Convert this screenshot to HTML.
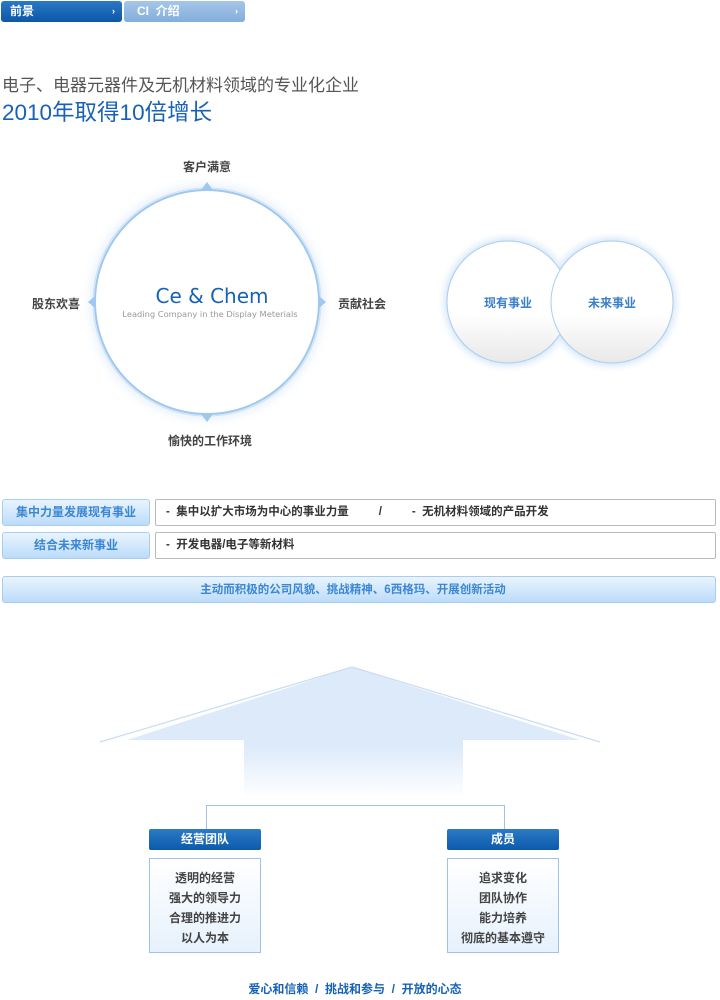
<!DOCTYPE html>
<html><head><meta charset="utf-8"><style>
*{margin:0;padding:0;box-sizing:border-box}
body{width:720px;height:1000px;background:#fff;position:relative;overflow:hidden;font-family:"Liberation Sans","Noto Sans CJK SC",sans-serif;}
.a{position:absolute}
.tab{position:absolute;top:1px;height:21px;border-radius:3px;color:#fff;font-size:12px;font-weight:bold;line-height:21px;padding-left:9px}
.t{font-size:12px;color:#444;font-weight:bold;white-space:nowrap}
.lbtn{position:absolute;left:2px;width:148px;height:27px;border:1px solid #a9cdee;border-radius:3px;background:linear-gradient(#e9f4fe,#bcdcfa);color:#3c86d2;font-size:12px;font-weight:bold;text-align:center;line-height:25px}
.rbox{position:absolute;left:155px;width:561px;height:27px;border:1px solid #bbb;border-radius:2px;font-size:11.5px;color:#333;font-weight:bold;line-height:25px;padding-left:10px;white-space:nowrap}
.hd{position:absolute;top:829px;width:112px;height:21px;background:linear-gradient(#2a7ac4,#0d5aab);border-radius:2px;color:#fff;font-size:12px;font-weight:bold;text-align:center;line-height:21px}
.lst{position:absolute;top:858px;width:112px;height:95px;border:1px solid #9fc3e6;background:linear-gradient(#fff,#e6f1fc);font-size:12px;font-weight:bold;color:#444;text-align:center;line-height:20px;padding-top:9px}
</style></head><body>
<div class="tab" style="left:1px;width:121px;background:linear-gradient(#2a78c6,#0c57a8)">前景<span class="a" style="right:7px;font-size:9px">›</span></div>
<div class="tab" style="left:124px;width:121px;background:linear-gradient(#a5c6e8,#82aedc);padding-left:13px">CI&nbsp; 介绍<span class="a" style="right:7px;font-size:9px">›</span></div>
<div class="a" style="left:2px;top:71px;font-size:17px;color:#555;white-space:nowrap">电子、电器元器件及无机材料领域的专业化企业</div>
<div class="a" style="left:2px;top:95px;font-size:22.5px;color:#1762b6;white-space:nowrap">2010年取得10倍增长</div>

<svg class="a" style="left:0;top:140px" width="720" height="320">
<defs><radialGradient id="g" cx="50%" cy="50%" r="50%"><stop offset="85%" stop-color="#d5e6f8" stop-opacity="0.9"/><stop offset="100%" stop-color="#fff" stop-opacity="0"/></radialGradient>
<linearGradient id="sg" x1="0" y1="0" x2="0" y2="1"><stop offset="0.6" stop-color="#fff"/><stop offset="1" stop-color="#e8e8e8"/></linearGradient></defs>
<circle cx="207" cy="162" r="128" fill="url(#g)"/>
<circle cx="207" cy="162" r="114" fill="none" stroke="#cfe1f5" stroke-width="1"/>
<circle cx="207" cy="162" r="112" fill="#fff" stroke="#9ec8f0" stroke-width="2"/>
<polygon points="207,42 201,50 213,50" fill="#9ec8f0"/>
<polygon points="207,282 201,274 213,274" fill="#9ec8f0"/>
<polygon points="88,162 95,156 95,168" fill="#9ec8f0"/>
<polygon points="326,162 319,156 319,168" fill="#9ec8f0"/>
<circle cx="508" cy="162" r="72" fill="url(#g)"/>
<circle cx="612" cy="162" r="72" fill="url(#g)"/>
<circle cx="508" cy="162" r="61" fill="url(#sg)" stroke="#a9cdf0"/>
<circle cx="612" cy="162" r="61" fill="url(#sg)" stroke="#a9cdf0"/>
<text x="508" y="167" text-anchor="middle" font-size="12" font-weight="bold" fill="#3a7fcb" font-family="Liberation Sans,Noto Sans CJK SC,sans-serif">现有事业</text>
<text x="612" y="167" text-anchor="middle" font-size="12" font-weight="bold" fill="#3a7fcb" font-family="Liberation Sans,Noto Sans CJK SC,sans-serif">未来事业</text>
<text x="212" y="163" text-anchor="middle" font-size="20" fill="#1762b6" font-family="DejaVu Sans,sans-serif">Ce &amp; Chem</text>
<text x="210" y="177" text-anchor="middle" font-size="8.3" fill="#999" font-family="DejaVu Sans,sans-serif">Leading Company in the Display Meterials</text>
</svg>
<div class="a t" style="left:183px;top:158px">客户满意</div>
<div class="a t" style="left:32px;top:295px">股东欢喜</div>
<div class="a t" style="left:338px;top:295px">贡献社会</div>
<div class="a t" style="left:168px;top:432px">愉快的工作环境</div>

<div class="lbtn" style="top:499px">集中力量发展现有事业</div>
<div class="rbox" style="top:499px">-&nbsp; 集中以扩大市场为中心的事业力量<span style="margin-left:30px">/</span><span style="margin-left:30px">-&nbsp; 无机材料领域的产品开发</span></div>
<div class="lbtn" style="top:532px">结合未来新事业</div>
<div class="rbox" style="top:532px">-&nbsp; 开发电器/电子等新材料</div>
<div class="a" style="left:2px;top:576px;width:714px;height:27px;border:1px solid #a9cdee;border-radius:3px;background:linear-gradient(#e9f4fe,#bcdcfa);color:#3c86d2;font-size:11.5px;font-weight:bold;text-align:center;line-height:26px;padding-right:12px">主动而积极的公司风貌、挑战精神、6西格玛、开展创新活动</div>

<svg class="a" style="left:100px;top:660px" width="520" height="160">
<defs><linearGradient id="ag" x1="0" y1="0" x2="0" y2="1"><stop offset="0.55" stop-color="#dceafa"/><stop offset="0.92" stop-color="#fff"/></linearGradient></defs>
<polygon points="252,7 480,80 363,80 363,150 144,150 144,80 27,80" fill="url(#ag)"/>
<polyline points="0,82 252,7 500,82" fill="none" stroke="#c8dcf2" stroke-width="1.2"/>
</svg>
<div class="a" style="left:206px;top:805px;width:299px;height:25px;border:1px solid #9fc3e6;border-bottom:none"></div>
<div class="hd" style="left:149px">经营团队</div>
<div class="hd" style="left:447px">成员</div>
<div class="lst" style="left:149px">透明的经营<br>强大的领导力<br>合理的推进力<br>以人为本</div>
<div class="lst" style="left:447px">追求变化<br>团队协作<br>能力培养<br>彻底的基本遵守</div>
<div class="a" style="left:0;width:720px;top:980px;text-align:center;font-size:12px;font-weight:bold;color:#1762b6;padding-right:10px">爱心和信赖 &nbsp;/&nbsp; 挑战和参与 &nbsp;/&nbsp; 开放的心态</div>
</body></html>
